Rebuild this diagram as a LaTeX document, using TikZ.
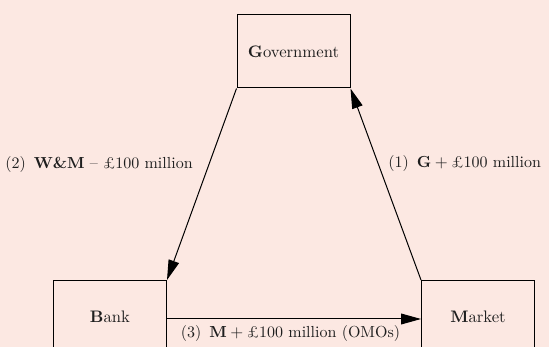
\documentclass[tikz,border=0pt]{standalone}
\usetikzlibrary{arrows.meta}
\definecolor{bgpink}{RGB}{252,232,226}
\definecolor{txt}{RGB}{30,30,30}
\tikzset{
  px/.style={x=0.6pt,y=-0.6pt},
  agent/.style={draw=black,line width=0.6pt,minimum width=67.8pt,minimum height=43.8pt,inner sep=0pt,text=txt,font=\fontsize{10}{12}\selectfont},
  flow/.style={draw=black,line width=0.6pt,-{Triangle[length=12pt,width=6.5pt]}},
  lbl/.style={text=txt,inner sep=0pt,font=\fontsize{9.6}{12}\selectfont}
}
\begin{document}
\begin{tikzpicture}[px]
\fill[bgpink] (0,0) rectangle (549,347);
\useasboundingbox (0,0) rectangle (549,347);
\clip (0,0) rectangle (549,347);
\node[agent] (gov) at (293.5,51.5) {\textbf{G}overnment};
\node[agent] (bank) at (110,317) {\textbf{B}ank};
\node[agent] (mkt) at (478,317) {\textbf{M}arket};
\draw[flow] (gov.south west) -- (bank.north east);
\draw[flow] (mkt.north west) -- (gov.south east);
\draw[flow] ([yshift=-1.2pt]bank.east) -- ([yshift=-1.2pt]mkt.west);
\node[lbl,anchor=east] (l2) at (193,165) {(2)\enspace\textbf{W\&M} -- \pounds100 million};
\node[lbl,anchor=west] (l1) at (388,164) {(1)\enspace\textbf{G}${}+{}$\pounds100 million};
\node[lbl] (l3) at (290.5,333) {(3)\enspace\textbf{M}${}+{}$\pounds100 million (OMOs)};
\end{tikzpicture}
\end{document}
